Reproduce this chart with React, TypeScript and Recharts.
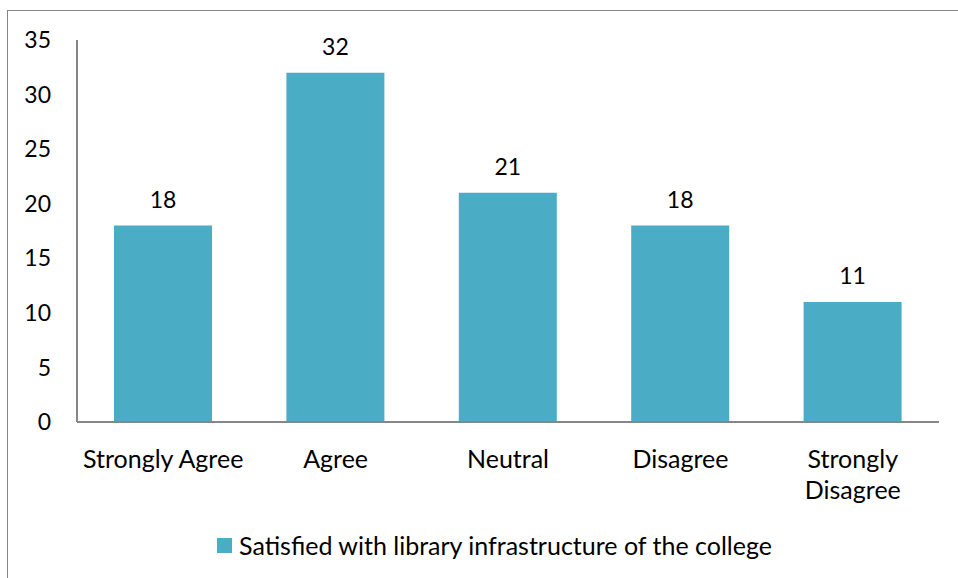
import React from "react";
import { BarChart, Bar, XAxis, YAxis, Legend, LabelList } from "recharts";

const categories = ["Strongly Agree", "Agree", "Neutral", "Disagree", "Strongly Disagree"];
const satisfied = [18, 32, 21, 18, 11];
const yTicks = [0, 5, 10, 15, 20, 25, 30, 35];
const seriesName = "Satisfied with library infrastructure of the college";

const data = categories.map((c, i) => ({ name: c, value: satisfied[i] }));

const FONT = "Lato, 'Open Sans', sans-serif";
const BAR = "#4BACC6";
const AXIS = "#868686";

function XTick(props: any) {
  const { x, y, payload } = props;
  const label: string = payload.value;
  // long labels wrap onto two lines, like the original
  const lines = label.length > 15 ? label.split(" ") : [label];
  return (
    <text x={x} y={y} textAnchor="middle" fontSize={25} fill="#000" fontFamily={FONT}>
      {lines.map((l, i) => (
        <tspan key={i} x={x} dy={i === 0 ? 44 : 31}>
          {l}
        </tspan>
      ))}
    </text>
  );
}

function LegendBox() {
  return (
    <div style={{ height: 76, position: "relative", fontFamily: FONT, fontSize: 25 }}>
      <div style={{ position: "absolute", left: 217, top: 36, width: 15, height: 15, background: BAR }} />
      <div style={{ position: "absolute", left: 239, top: 29, lineHeight: "28px", whiteSpace: "nowrap" }}>
        {seriesName}
      </div>
    </div>
  );
}

export default function App() {
  return (
    <div style={{ position: "absolute", left: 0, top: 0, width: 958, height: 578, background: "#fff", overflow: "hidden" }}>
      <div
        style={{
          position: "absolute",
          left: 7,
          top: 10,
          width: 1000,
          height: 1000,
          borderLeft: `1.5px solid ${AXIS}`,
          borderTop: `1.5px solid ${AXIS}`,
        }}
      />
      <div style={{ position: "absolute", left: 0, top: 0 }}>
        <BarChart
          width={958}
          height={578}
          data={data}
          margin={{ top: 40, right: 19, left: 0, bottom: 0 }}
        >
          <YAxis
            width={77}
            domain={[0, 35]}
            ticks={yTicks}
            interval={0}
            tickLine={false}
            tickSize={0}
            tickMargin={26}
            axisLine={{ stroke: AXIS, strokeWidth: 2 }}
            tick={{ fontSize: 23, fill: "#000", fontFamily: FONT }}
          />
          <XAxis
            dataKey="name"
            height={80}
            interval={0}
            tickLine={false}
            tickSize={0}
            axisLine={{ stroke: AXIS, strokeWidth: 2 }}
            tick={<XTick />}
          />
          <Legend verticalAlign="bottom" height={76} content={<LegendBox />} />
          <Bar dataKey="value" name={seriesName} fill={BAR} barSize={98} isAnimationActive={false}>
            <LabelList dataKey="value" position="top" offset={18} fontSize={23} fill="#000" fontFamily={FONT} />
          </Bar>
        </BarChart>
      </div>
    </div>
  );
}
